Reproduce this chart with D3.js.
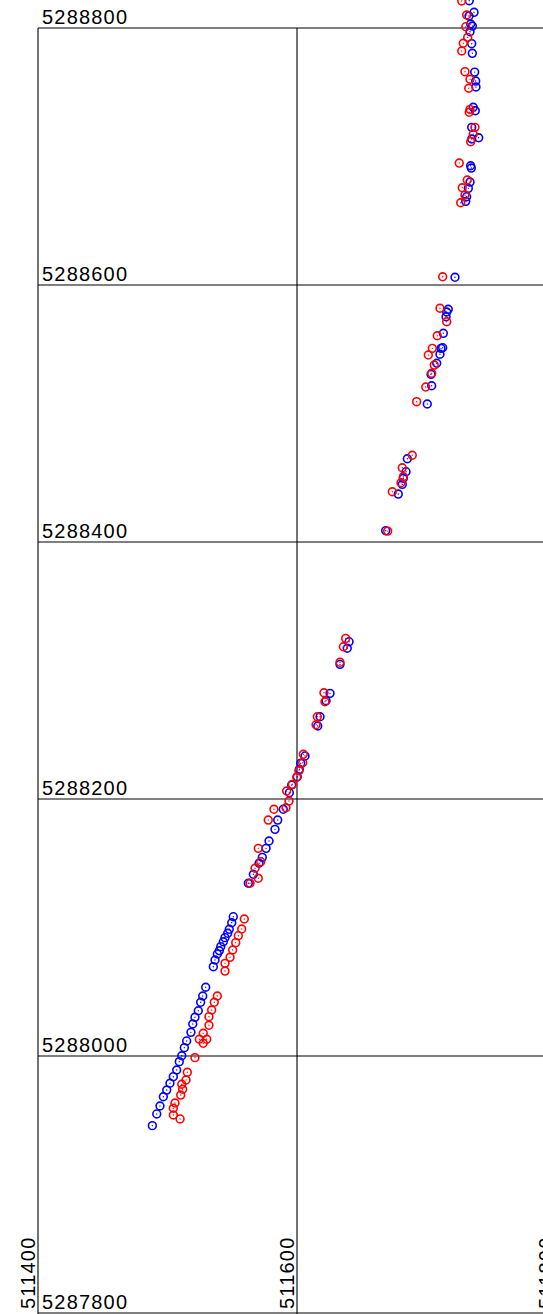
<!DOCTYPE html>
<html>
<head>
<meta charset="utf-8">
<script src="https://cdn.jsdelivr.net/npm/d3@7"></script>
<style>
  html, body { margin: 0; padding: 0; background: #fff; overflow: hidden; }
  svg { display: block; }
  text { font-family: "Liberation Sans", Arial, sans-serif; font-size: 20px; fill: #000; letter-spacing: 1.2px; }
</style>
</head>
<body>
<svg id="chart" width="543" height="1314"></svg>
<script>
// Grid ticks (UTM easting / northing, metres)
const eastTicks = [511400, 511600, 511800];
const northTicks = [5287800, 5288000, 5288200, 5288400, 5288600, 5288800];

// Red survey positions
const redEast = [
  511727.2, 511731.0, 511730.3, 511731.8, 511728.4, 511727.2, 511729.7, 511733.6, 511732.6, 511733.6,
  511733.0, 511737.4, 511736.1, 511734.1, 511725.3, 511731.5, 511727.6, 511729.7, 511726.4, 511712.5,
  511710.4, 511715.6, 511708.3, 511704.5, 511701.4, 511706.0, 511704.0, 511699.4, 511692.4, 511689.0,
  511681.3, 511682.1, 511680.3, 511673.6, 511670.0, 511637.6, 511635.8, 511633.2, 511620.8, 511621.6,
  511615.7, 511614.7, 511604.9, 511604.4, 511601.5, 511599.8, 511596.4, 511592.0, 511593.8, 511591.5,
  511582.2, 511577.8, 511570.1, 511572.0, 511567.6, 511570.1, 511563.7, 511559.3, 511557.3, 511554.7,
  511552.7, 511550.3, 511548.3, 511544.4, 511544.4, 511538.5, 511536.1, 511534.1, 511532.0, 511532.0,
  511527.6, 511524.6, 511530.3, 511527.6, 511521.2, 511515.3, 511514.3, 511511.0, 511511.7, 511510.2,
  511505.8, 511504.5, 511504.5, 511509.7
];
const redNorth = [
  5288821.0, 5288810.1, 5288801.0, 5288792.7, 5288788.1, 5288782.1, 5288766.0, 5288760.1, 5288753.1, 5288736.7,
  5288734.4, 5288722.7, 5288717.3, 5288711.5, 5288694.9, 5288681.7, 5288675.7, 5288670.0, 5288664.0, 5288606.4,
  5288581.9, 5288571.4, 5288560.5, 5288550.7, 5288545.5, 5288537.7, 5288531.3, 5288520.6, 5288509.2, 5288467.5,
  5288457.8, 5288450.8, 5288446.1, 5288439.1, 5288408.5, 5288325.0, 5288318.5, 5288306.4, 5288282.7, 5288275.7,
  5288264.0, 5288257.8, 5288234.8, 5288228.2, 5288222.0, 5288216.9, 5288211.4, 5288206.2, 5288198.4, 5288193.2,
  5288192.0, 5288183.6, 5288161.6, 5288151.2, 5288146.1, 5288138.3, 5288134.4, 5288106.6, 5288098.8, 5288093.6,
  5288088.2, 5288082.5, 5288076.8, 5288072.1, 5288066.1, 5288046.7, 5288041.8, 5288035.8, 5288030.6, 5288023.9,
  5288017.7, 5288013.0, 5288013.0, 5288009.9, 5287998.7, 5287987.3, 5287981.3, 5287978.0, 5287974.1, 5287969.6,
  5287963.4, 5287959.3, 5287954.1, 5287951.0
];

// Blue survey positions
const blueEast = [
  511733.0, 511736.7, 511732.8, 511734.1, 511735.4, 511733.6, 511734.9, 511735.4, 511737.2, 511738.0,
  511738.2, 511736.1, 511737.7, 511734.9, 511740.3, 511734.9, 511734.1, 511734.6, 511733.6, 511732.3,
  511731.0, 511730.3, 511722.0, 511716.8, 511715.6, 511715.1, 511713.0, 511711.2, 511712.5, 511710.4,
  511707.9, 511703.5, 511704.0, 511700.6, 511685.2, 511684.2, 511682.1, 511681.3, 511678.2, 511668.5,
  511640.2, 511638.8, 511633.2, 511625.5, 511622.4, 511617.8, 511616.0, 511606.2, 511602.9, 511601.8,
  511600.2, 511595.9, 511594.1, 511589.4, 511585.1, 511583.0, 511578.4, 511576.1, 511573.2, 511570.7,
  511566.3, 511562.4, 511550.8, 511549.6, 511547.7, 511546.5, 511544.4, 511543.1, 511541.1, 511540.0,
  511538.5, 511536.7, 511535.4, 511529.5, 511527.2, 511525.6, 511523.8, 511521.2, 511519.5, 511518.1,
  511514.8, 511513.0, 511511.0, 511509.1, 511507.1, 511504.5, 511501.9, 511499.4, 511496.8, 511494.2,
  511491.7, 511488.3
];
const blueNorth = [
  5288821.2, 5288812.2, 5288809.3, 5288803.1, 5288801.5, 5288797.1, 5288787.8, 5288780.3, 5288765.7, 5288758.7,
  5288754.1, 5288738.3, 5288735.6, 5288722.7, 5288714.6, 5288713.6, 5288692.8, 5288691.0, 5288680.1, 5288675.2,
  5288668.7, 5288665.1, 5288606.0, 5288581.1, 5288579.0, 5288575.3, 5288562.4, 5288550.7, 5288551.2, 5288546.1,
  5288539.1, 5288530.5, 5288521.6, 5288507.4, 5288464.8, 5288454.7, 5288449.6, 5288444.9, 5288437.3, 5288408.8,
  5288322.4, 5288317.3, 5288304.8, 5288282.2, 5288276.5, 5288264.0, 5288256.8, 5288233.5, 5288227.8, 5288223.1,
  5288217.3, 5288210.9, 5288204.9, 5288192.0, 5288183.6, 5288176.4, 5288167.3, 5288161.6, 5288154.6, 5288150.0,
  5288141.4, 5288134.4, 5288108.4, 5288103.7, 5288098.6, 5288095.5, 5288092.1, 5288088.9, 5288085.1, 5288081.9,
  5288079.4, 5288074.7, 5288069.5, 5288053.5, 5288046.7, 5288041.8, 5288035.2, 5288030.1, 5288024.9, 5288018.4,
  5288011.7, 5288006.5, 5288000.2, 5287995.6, 5287989.1, 5287983.9, 5287978.8, 5287973.5, 5287968.3, 5287961.1,
  5287954.9, 5287945.8
];

const W = 543, H = 1314;
const svg = d3.select("#chart");

const x = d3.scaleLinear().domain([511400, 511800]).range([38, 556]);
const y = d3.scaleLinear().domain([5287800, 5288800]).range([1313, 28]);

// Grid lines
const grid = svg.append("g").attr("stroke", "#000").attr("stroke-width", 1.1);
grid.selectAll("line.v").data(eastTicks).join("line")
  .attr("class", "v")
  .attr("x1", d => x(d)).attr("x2", d => x(d))
  .attr("y1", y(5288800)).attr("y2", H);
grid.selectAll("line.h").data(northTicks).join("line")
  .attr("class", "h")
  .attr("x1", x(511400)).attr("x2", W)
  .attr("y1", d => y(d)).attr("y2", d => y(d));

// Northing labels, sitting just above each horizontal line
svg.append("g").selectAll("text").data(northTicks).join("text")
  .attr("x", x(511400) + 4)
  .attr("y", d => y(d) - 4)
  .text(d => d);

// Easting labels, rotated, reading upward from the bottom edge
svg.append("g").selectAll("text").data(eastTicks).join("text")
  .attr("transform", d => `translate(${x(d) - 3},${H - 5}) rotate(-90)`)
  .text(d => d);

// Survey markers: open circle with a centre dot
function drawSeries(east, north, color) {
  const pts = east.map((e, i) => ({ e, n: north[i] }));
  const g = svg.append("g");
  g.selectAll("circle.ring").data(pts).join("circle")
    .attr("class", "ring")
    .attr("cx", d => x(d.e)).attr("cy", d => y(d.n))
    .attr("r", 3.9)
    .attr("fill", "none")
    .attr("stroke", color)
    .attr("stroke-width", 1.6);
  g.selectAll("circle.dot").data(pts).join("circle")
    .attr("class", "dot")
    .attr("cx", d => x(d.e)).attr("cy", d => y(d.n))
    .attr("r", 0.7)
    .attr("fill", color);
}
drawSeries(blueEast, blueNorth, "#0000ff");
drawSeries(redEast, redNorth, "#ff0000");
</script>
</body>
</html>
